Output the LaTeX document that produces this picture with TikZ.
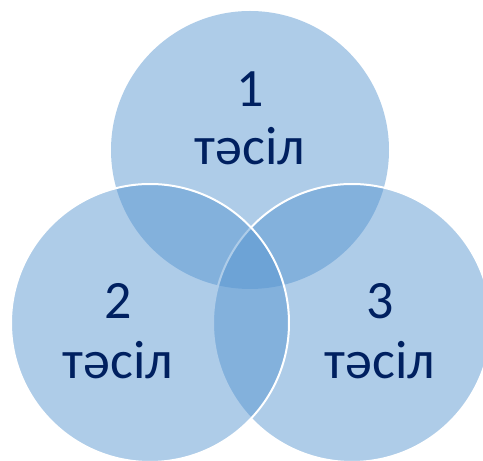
\documentclass[tikz,border=0pt]{standalone}
\usepackage{fontspec}
\setmainfont{Carlito}
\begin{document}
\begin{tikzpicture}[x=1pt,y=1pt,
  vennfill/.style={fill={rgb,255:red,86;green,149;blue,209}, fill opacity=0.48},
  vennline/.style={draw=white, line width=2pt, draw opacity=1},
  lbl/.style={anchor=base, text={rgb,255:red,0;green,32;blue,96}, font=\fontsize{54}{58}\selectfont, inner sep=0pt}]
\useasboundingbox (0,0) rectangle (483,461);
\clip (0,0) rectangle (483,461);
\fill[white] (0,0) rectangle (483,461);
\path[vennfill] (250,311) circle[radius=139];
\path[vennfill, vennline] (352,138) circle[radius=139];
\path[vennfill, vennline] (150,138) circle[radius=139];
\node[lbl] (n1) at (250,354) {1};
\node[lbl] (w1) at (250,296) {тәсіл};
\node[lbl] (n2) at (118,142) {2};
\node[lbl] (w2) at (118,82) {тәсіл};
\node[lbl] (n3) at (380,142) {3};
\node[lbl] (w3) at (380,82) {тәсіл};
\end{tikzpicture}
\end{document}
